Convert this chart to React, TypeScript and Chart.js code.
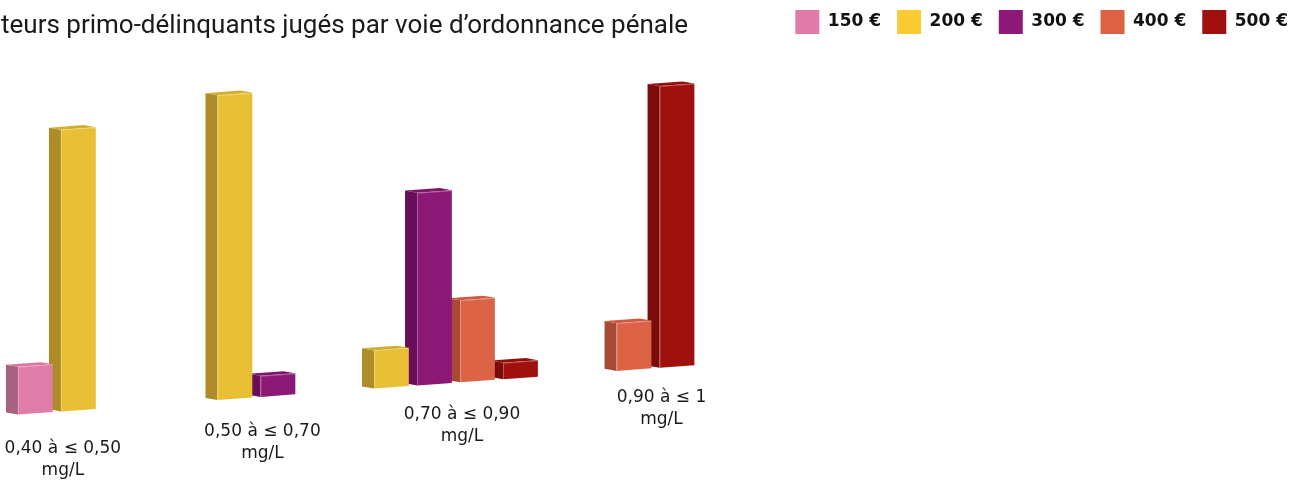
import React, { useEffect, useRef } from 'react';
import { Chart, registerables } from 'chart.js';

Chart.register(...registerables);

// ---------- data ----------
const TITLE = 'teurs primo-délinquants jugés par voie d’ordonnance pénale';
const CATEGORIES: string[][] = [
  ['0,40 à ≤ 0,50', 'mg/L'],
  ['0,50 à ≤ 0,70', 'mg/L'],
  ['0,70 à ≤ 0,90', 'mg/L'],
  ['0,90 à ≤ 1', 'mg/L'],
];
const CATEGORY_INDEX = [0, 1, 2, 3];
const SERIES = ['150 €', '200 €', '300 €', '400 €', '500 €'];

const V150 = [14.5, null, null, null];
const V200 = [85.5, 92.5, 11.6, null];
const V300 = [null, 6.4, 58.5, null];
const V400 = [null, null, 24.9, 14.5];
const V500 = [null, null, 5.0, 85.5];
const SERIES_VALUES: (number | null)[][] = [V150, V200, V300, V400, V500];

// ---------- style ----------
const LEGEND_COLORS = ['#E07BA8', '#FBCB36', '#8E1877', '#DD6245', '#A0100F'];
const FRONT = ['#E07CA8', '#E8BF35', '#8D1977', '#DD6347', '#A0100F'];
const SIDE = ['#A8617F', '#AE8D28', '#690F59', '#A84B36', '#7A0C0B'];
const TOPC = ['#D8779F', '#D4AE2E', '#80166C', '#CE5B41', '#930F0E'];

const SKEW = -0.073;
const PIVOT_X = 40;
const DEPTH_X = -12;
const DEPTH_Y = -3;
const LABEL_SKEW = -0.086;
const LABEL_DX = 6;
const LABEL_DY = 38;

const bars3d = {
  id: 'bars3d',
  beforeDatasetsDraw(chart: any) {
    const ctx = chart.ctx as CanvasRenderingContext2D;
    ctx.save();
    ctx.transform(1, SKEW, 0, 1, 0, -SKEW * PIVOT_X);
    for (let d = chart.data.datasets.length - 1; d >= 0; d--) {
      const meta = chart.getDatasetMeta(d);
      const values = SERIES_VALUES[d];
      meta.data.forEach((el: any, i: number) => {
        const v = values[i];
        if (v == null) return;
        const p = el.getProps(['x', 'y', 'base', 'width'], true);
        const fw = p.width * 0.81;
        const L = p.x - fw / 2;
        const R = p.x + fw / 2;
        const T = p.y;
        const B = p.base;
        // side face
        ctx.fillStyle = SIDE[d];
        ctx.beginPath();
        ctx.moveTo(L, T);
        ctx.lineTo(L + DEPTH_X, T + DEPTH_Y);
        ctx.lineTo(L + DEPTH_X, B + DEPTH_Y);
        ctx.lineTo(L, B);
        ctx.closePath();
        ctx.fill();
        // top face
        ctx.fillStyle = TOPC[d];
        ctx.beginPath();
        ctx.moveTo(L, T);
        ctx.lineTo(R, T);
        ctx.lineTo(R + DEPTH_X, T + DEPTH_Y);
        ctx.lineTo(L + DEPTH_X, T + DEPTH_Y);
        ctx.closePath();
        ctx.fill();
        // front face
        ctx.fillStyle = FRONT[d];
        ctx.fillRect(L, T, R - L, B - T);
        // soft highlights on edges
        ctx.strokeStyle = 'rgba(255,255,255,0.28)';
        ctx.lineWidth = 1;
        ctx.beginPath();
        ctx.moveTo(L + 0.5, B);
        ctx.lineTo(L + 0.5, T + 0.5);
        ctx.lineTo(R, T + 0.5);
        ctx.stroke();
      });
    }
    ctx.restore();
    return false;
  },
  afterDraw(chart: any) {
    const ctx = chart.ctx as CanvasRenderingContext2D;
    ctx.save();
    // title (cropped on the left, as in the source)
    ctx.fillStyle = '#1a1a1a';
    ctx.font = '26px Roboto';
    ctx.textAlign = 'left';
    ctx.textBaseline = 'alphabetic';
    ctx.fillText(TITLE, 1, 33);
    // category labels, following the perspective
    const xs = chart.scales.x;
    ctx.font = '17px "DejaVu Sans"';
    ctx.textAlign = 'center';
    ctx.textBaseline = 'middle';
    CATEGORY_INDEX.forEach((idx, i) => {
      const x = xs.getPixelForValue(idx) + LABEL_DX;
      const y = chart.chartArea.bottom + LABEL_DY + LABEL_SKEW * (x - PIVOT_X);
      CATEGORIES[i].forEach((line, k) => {
        ctx.fillText(line, x, y + k * 22);
      });
    });
    ctx.restore();
  },
};

export default function App() {
  const ref = useRef<HTMLCanvasElement | null>(null);
  useEffect(() => {
    if (!ref.current) return;
    const chart = new Chart(ref.current, {
      type: 'bar',
      data: {
        labels: CATEGORY_INDEX,
        datasets: SERIES.map((name, d) => ({
          label: name,
          data: CATEGORY_INDEX.map((c, i) => ({ x: c, y: SERIES_VALUES[d][i] })),
          backgroundColor: LEGEND_COLORS[d],
          borderWidth: 0,
          barThickness: 43,
          skipNull: true,
        })),
      },
      options: {
        animation: false,
        responsive: true,
        maintainAspectRatio: false,
        layout: { padding: { top: -6, bottom: 67, left: 0, right: -3 } },
        scales: {
          x: { type: 'linear', offset: false, min: -0.285, max: 6.235, display: false },
          y: { min: 0, max: 112, display: false },
        },
        plugins: {
          legend: {
            position: 'top',
            align: 'end',
            labels: {
              boxWidth: 24,
              boxHeight: 24,
              padding: 16,
              color: '#111',
              font: { family: '"DejaVu Sans"', size: 17, weight: 'bold' },
            },
          },
          tooltip: { enabled: false },
        },
      },
      plugins: [bars3d],
    } as any);
    return () => chart.destroy();
  }, []);
  return (
    <div style={{ position: 'fixed', left: 0, top: 0, width: 1301, height: 480 }}>
      <canvas ref={ref} />
    </div>
  );
}
